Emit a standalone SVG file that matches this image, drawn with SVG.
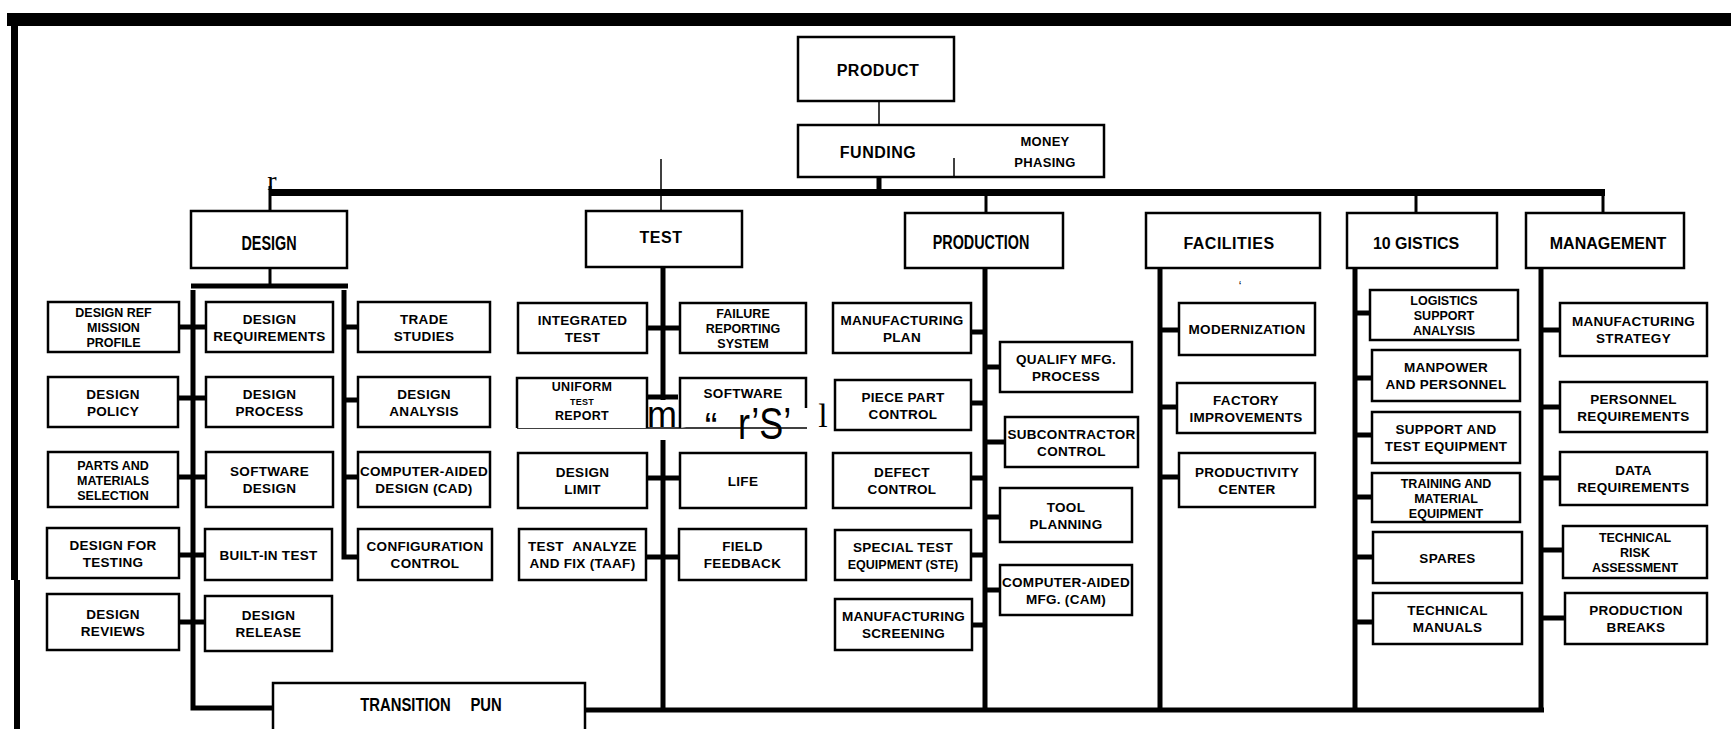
<svg xmlns="http://www.w3.org/2000/svg" width="1731" height="729" viewBox="0 0 1731 729">
<style>
.bx{fill:#fff;stroke:#000;stroke-width:2.5}
.t{font-family:"Liberation Sans",Arial,sans-serif;font-weight:bold;font-size:13.5px;text-anchor:middle;letter-spacing:0.3px;fill:#000}
.s{font-size:12.5px;letter-spacing:0}
.hd{font-family:"Liberation Sans",Arial,sans-serif;font-weight:bold;font-size:16px;text-anchor:middle;letter-spacing:0.5px;fill:#000}
.cd{font-family:"Liberation Sans",Arial,sans-serif;font-weight:bold;font-size:20px;text-anchor:middle;fill:#000}
.ov{font-family:"Liberation Sans",Arial,sans-serif;fill:#000}
.sf{font-family:"Liberation Serif","Times New Roman",serif;fill:#000}
.k{stroke:#000;stroke-width:5;fill:none}
.kk{stroke:#000;stroke-width:7;fill:none}
.th{stroke:#000;stroke-width:1.5;fill:none}
.m{stroke:#000;stroke-width:3;fill:none}
</style>
<rect width="1731" height="729" fill="#fff"/>
<g id="frame">
<rect x="7" y="13" width="1724" height="13" fill="#000"/>
<rect x="11" y="26" width="7" height="554" fill="#000"/>
<rect x="14" y="580" width="6" height="149" fill="#000"/>
</g>
<g id="connectors">
<line class="th" x1="879" y1="101" x2="879" y2="125"/>
<line class="k" x1="879" y1="177" x2="879" y2="190"/>
<line class="kk" x1="270" y1="192.5" x2="1605" y2="192.5"/>
<line class="m" x1="270" y1="186" x2="270" y2="211"/>
<line class="th" x1="661" y1="159" x2="661" y2="211"/>
<line class="m" x1="986" y1="196" x2="986" y2="213"/>
<line class="m" x1="1416" y1="196" x2="1416" y2="213"/>
<line class="m" x1="1603" y1="190" x2="1603" y2="213"/>
<line class="m" x1="270" y1="268" x2="270" y2="284"/>
<line class="k" x1="191" y1="286" x2="348" y2="286" stroke-width="6"/>
<polyline class="k" points="193,290 193,708 273,708"/>
<polyline class="k" points="344,290 344,557 358,557"/>
<path class="k" d="M179 327H206M179 398H206M179 477H206M179 555H205M179 622H205M344 327H358M344 400H358M344 477H358"/>
<line class="k" x1="663" y1="267" x2="663" y2="400"/>
<line class="k" x1="663" y1="440" x2="663" y2="710"/>
<path class="k" d="M647 328H680M647 397H678M647 478H680M646 557H679"/>
<line class="th" x1="517" y1="428" x2="807" y2="428" stroke-width="2.5"/>
<line class="k" x1="985" y1="268" x2="985" y2="710"/>
<path class="k" d="M971 332H985M971 403H985M971 478H985M971 555H985M972 625H985M985 367H1000M985 442H1005M985 517H1000M985 590H1000"/>
<line class="k" x1="1160" y1="268" x2="1160" y2="710"/>
<path class="k" d="M1160 330H1179M1160 407H1177M1160 477H1179"/>
<line class="k" x1="1355" y1="268" x2="1355" y2="710"/>
<path class="k" d="M1355 313H1370M1355 378H1372M1355 435H1372M1355 497H1372M1355 557H1373M1355 622H1373"/>
<line class="k" x1="1541" y1="268" x2="1541" y2="710"/>
<path class="k" d="M1541 330H1560M1541 407H1560M1541 478H1560M1541 550H1563M1541 618H1565"/>
<line class="k" x1="585" y1="710" x2="1544" y2="710" stroke-width="6"/>
</g>
<g id="product"><rect class="bx" x="798" y="37" width="156" height="64"/><text class="hd" x="878" y="76">PRODUCT</text></g>
<g id="funding"><rect class="bx" x="798" y="125" width="306" height="52"/><line class="th" x1="954" y1="158" x2="954" y2="177"/><text class="hd" x="878" y="158">FUNDING</text><text class="t" x="1045" y="146" style="font-size:13px">MONEY</text><text class="t" x="1045" y="167" style="font-size:13px">PHASING</text></g>
<g id="design"><rect class="bx" x="191" y="211" width="156" height="57"/><text class="cd" transform="translate(269,250) scale(0.72,1)">DESIGN</text></g>
<g id="test"><rect class="bx" x="586" y="211" width="156" height="56"/><text class="hd" x="661" y="243">TEST</text></g>
<g id="production"><rect class="bx" x="905" y="213" width="158" height="55"/><text class="cd" transform="translate(981,249) scale(0.72,1)">PRODUCTION</text></g>
<g id="facilities"><rect class="bx" x="1146" y="213" width="174" height="55"/><text class="hd" x="1229" y="249">FACILITIES</text></g>
<g id="logistics"><rect class="bx" x="1347" y="213" width="150" height="55"/><text class="hd" x="1416" y="249" style="letter-spacing:0">10 GISTICS</text></g>
<g id="management"><rect class="bx" x="1526" y="213" width="158" height="55"/><text class="hd" x="1608" y="249" style="letter-spacing:0">MANAGEMENT</text></g>
<g id="transition"><rect class="bx" x="273" y="683" width="312" height="60"/><text class="cd" transform="translate(431,711) scale(0.78,1)" style="font-size:19px;word-spacing:20px">TRANSITION PUN</text></g>

<g id="d-ref"><rect class="bx" x="48" y="302" width="131" height="50"/><text class="t s"><tspan x="113.5" y="317">DESIGN REF</tspan><tspan x="113.5" y="332">MISSION</tspan><tspan x="113.5" y="347">PROFILE</tspan></text></g>
<g id="d-policy"><rect class="bx" x="48" y="377" width="130" height="50"/><text class="t"><tspan x="113" y="398.5">DESIGN</tspan><tspan x="113" y="415.5">POLICY</tspan></text></g>
<g id="d-parts"><rect class="bx" x="48" y="452" width="130" height="55"/><text class="t s"><tspan x="113" y="469.5">PARTS AND</tspan><tspan x="113" y="484.5">MATERIALS</tspan><tspan x="113" y="499.5">SELECTION</tspan></text></g>
<g id="d-dft"><rect class="bx" x="47" y="528" width="132" height="50"/><text class="t"><tspan x="113" y="549.5">DESIGN FOR</tspan><tspan x="113" y="566.5">TESTING</tspan></text></g>
<g id="d-reviews"><rect class="bx" x="47" y="594" width="132" height="56"/><text class="t"><tspan x="113" y="618.5">DESIGN</tspan><tspan x="113" y="635.5">REVIEWS</tspan></text></g>
<g id="d-req"><rect class="bx" x="206" y="302" width="127" height="50"/><text class="t"><tspan x="269.5" y="323.5">DESIGN</tspan><tspan x="269.5" y="340.5">REQUIREMENTS</tspan></text></g>
<g id="d-process"><rect class="bx" x="206" y="377" width="127" height="50"/><text class="t"><tspan x="269.5" y="398.5">DESIGN</tspan><tspan x="269.5" y="415.5">PROCESS</tspan></text></g>
<g id="d-sw"><rect class="bx" x="206" y="452" width="127" height="55"/><text class="t"><tspan x="269.5" y="476">SOFTWARE</tspan><tspan x="269.5" y="493">DESIGN</tspan></text></g>
<g id="d-bit"><rect class="bx" x="205" y="529" width="127" height="51"/><text class="t" x="268.5" y="559.5">BUILT-IN TEST</text></g>
<g id="d-release"><rect class="bx" x="205" y="596" width="127" height="55"/><text class="t"><tspan x="268.5" y="620">DESIGN</tspan><tspan x="268.5" y="637">RELEASE</tspan></text></g>
<g id="d-trade"><rect class="bx" x="358" y="302" width="132" height="50"/><text class="t"><tspan x="424" y="323.5">TRADE</tspan><tspan x="424" y="340.5">STUDIES</tspan></text></g>
<g id="d-analysis"><rect class="bx" x="358" y="377" width="132" height="50"/><text class="t"><tspan x="424" y="398.5">DESIGN</tspan><tspan x="424" y="415.5">ANALYSIS</tspan></text></g>
<g id="d-cad"><rect class="bx" x="358" y="452" width="132" height="55"/><text class="t"><tspan x="424" y="476">COMPUTER-AIDED</tspan><tspan x="424" y="493">DESIGN (CAD)</tspan></text></g>
<g id="d-config"><rect class="bx" x="358" y="529" width="134" height="51"/><text class="t"><tspan x="425" y="551">CONFIGURATION</tspan><tspan x="425" y="568">CONTROL</tspan></text></g>

<g id="t-int"><rect class="bx" x="518" y="303" width="129" height="50"/><text class="t"><tspan x="582.5" y="324.5">INTEGRATED</tspan><tspan x="582.5" y="341.5">TEST</tspan></text></g>
<g id="t-uniform"><path class="bx" d="M517 428V378H647V428"/><text class="t"><tspan x="582" y="391" style="font-size:12.5px">UNIFORM</tspan><tspan x="582" y="405" style="font-size:9px">TEST</tspan><tspan x="582" y="420" style="font-size:12.5px">REPORT</tspan></text></g>
<g id="t-limit"><rect class="bx" x="518" y="453" width="129" height="55"/><text class="t"><tspan x="582.5" y="477">DESIGN</tspan><tspan x="582.5" y="494">LIMIT</tspan></text></g>
<g id="t-taaf"><rect class="bx" x="519" y="529" width="127" height="51"/><text class="t"><tspan x="582.5" y="551" style="word-spacing:5px">TEST ANALYZE</tspan><tspan x="582.5" y="568">AND FIX (TAAF)</tspan></text></g>
<g id="t-failure"><rect class="bx" x="680" y="303" width="126" height="50"/><text class="t s"><tspan x="743" y="318">FAILURE</tspan><tspan x="743" y="333">REPORTING</tspan><tspan x="743" y="348">SYSTEM</tspan></text></g>
<g id="t-software"><path class="bx" d="M680 428V378H806V408"/><text class="t" x="743" y="398">SOFTWARE</text></g>
<g id="t-life"><rect class="bx" x="680" y="453" width="126" height="55"/><text class="t" x="743" y="485.5">LIFE</text></g>
<g id="t-field"><rect class="bx" x="679" y="529" width="127" height="51"/><text class="t"><tspan x="742.5" y="551">FIELD</tspan><tspan x="742.5" y="568">FEEDBACK</tspan></text></g>
<g id="overlay">
<text class="ov" x="662" y="427" style="font-size:36px;text-anchor:middle">m</text>
<text class="ov" x="711" y="440" style="font-size:38px;text-anchor:middle">“</text>
<text class="ov" transform="translate(738,439) scale(0.9,1.1)" style="font-size:40px">r’S’</text>
<text class="sf" x="823" y="427" style="font-size:34px;text-anchor:middle">l</text>
<text class="sf" x="272" y="190" style="font-size:28px;text-anchor:middle">r</text>
<text class="ov" x="1240" y="290" style="font-size:12px;text-anchor:middle">‘</text>
</g>

<g id="p-plan"><rect class="bx" x="833" y="303" width="138" height="50"/><text class="t"><tspan x="902" y="324.5">MANUFACTURING</tspan><tspan x="902" y="341.5">PLAN</tspan></text></g>
<g id="p-piece"><rect class="bx" x="835" y="380" width="136" height="50"/><text class="t"><tspan x="903" y="401.5">PIECE PART</tspan><tspan x="903" y="418.5">CONTROL</tspan></text></g>
<g id="p-defect"><rect class="bx" x="833" y="453" width="138" height="55"/><text class="t"><tspan x="902" y="477">DEFECT</tspan><tspan x="902" y="494">CONTROL</tspan></text></g>
<g id="p-ste"><rect class="bx" x="835" y="530" width="136" height="50"/><text class="t"><tspan x="903" y="551.5">SPECIAL TEST</tspan><tspan x="903" y="568.5" style="font-size:12.5px;letter-spacing:0">EQUIPMENT (STE)</tspan></text></g>
<g id="p-screen"><rect class="bx" x="835" y="599" width="137" height="51"/><text class="t"><tspan x="903.5" y="621">MANUFACTURING</tspan><tspan x="903.5" y="638">SCREENING</tspan></text></g>
<g id="p-qualify"><rect class="bx" x="1000" y="342" width="132" height="50"/><text class="t"><tspan x="1066" y="363.5">QUALIFY MFG.</tspan><tspan x="1066" y="380.5">PROCESS</tspan></text></g>
<g id="p-sub"><rect class="bx" x="1005" y="417" width="133" height="50"/><text class="t"><tspan x="1071.5" y="438.5">SUBCONTRACTOR</tspan><tspan x="1071.5" y="455.5">CONTROL</tspan></text></g>
<g id="p-tool"><rect class="bx" x="1000" y="488" width="132" height="54"/><text class="t"><tspan x="1066" y="511.5">TOOL</tspan><tspan x="1066" y="528.5">PLANNING</tspan></text></g>
<g id="p-cam"><rect class="bx" x="1000" y="565" width="132" height="50"/><text class="t"><tspan x="1066" y="586.5">COMPUTER-AIDED</tspan><tspan x="1066" y="603.5">MFG. (CAM)</tspan></text></g>

<g id="f-mod"><rect class="bx" x="1179" y="303" width="136" height="52"/><text class="t" x="1247" y="334">MODERNIZATION</text></g>
<g id="f-factory"><rect class="bx" x="1177" y="383" width="138" height="50"/><text class="t"><tspan x="1246" y="404.5">FACTORY</tspan><tspan x="1246" y="421.5">IMPROVEMENTS</tspan></text></g>
<g id="f-prod"><rect class="bx" x="1179" y="453" width="136" height="54"/><text class="t"><tspan x="1247" y="476.5">PRODUCTIVITY</tspan><tspan x="1247" y="493.5">CENTER</tspan></text></g>

<g id="l-lsa"><rect class="bx" x="1370" y="290" width="148" height="50"/><text class="t s"><tspan x="1444" y="305">LOGISTICS</tspan><tspan x="1444" y="320">SUPPORT</tspan><tspan x="1444" y="335">ANALYSIS</tspan></text></g>
<g id="l-man"><rect class="bx" x="1372" y="350" width="148" height="51"/><text class="t"><tspan x="1446" y="372">MANPOWER</tspan><tspan x="1446" y="389">AND PERSONNEL</tspan></text></g>
<g id="l-ste"><rect class="bx" x="1372" y="412" width="148" height="51"/><text class="t"><tspan x="1446" y="434">SUPPORT AND</tspan><tspan x="1446" y="451">TEST EQUIPMENT</tspan></text></g>
<g id="l-train"><rect class="bx" x="1372" y="473" width="148" height="49"/><text class="t s"><tspan x="1446" y="487.5">TRAINING AND</tspan><tspan x="1446" y="502.5">MATERIAL</tspan><tspan x="1446" y="517.5">EQUIPMENT</tspan></text></g>
<g id="l-spares"><rect class="bx" x="1373" y="532" width="149" height="51"/><text class="t" x="1447.5" y="562.5">SPARES</text></g>
<g id="l-manuals"><rect class="bx" x="1373" y="593" width="149" height="51"/><text class="t"><tspan x="1447.5" y="615">TECHNICAL</tspan><tspan x="1447.5" y="632">MANUALS</tspan></text></g>

<g id="m-strat"><rect class="bx" x="1560" y="303" width="147" height="53"/><text class="t"><tspan x="1633.5" y="326">MANUFACTURING</tspan><tspan x="1633.5" y="343">STRATEGY</tspan></text></g>
<g id="m-pers"><rect class="bx" x="1560" y="382" width="147" height="50"/><text class="t"><tspan x="1633.5" y="403.5">PERSONNEL</tspan><tspan x="1633.5" y="420.5">REQUIREMENTS</tspan></text></g>
<g id="m-data"><rect class="bx" x="1560" y="452" width="147" height="53"/><text class="t"><tspan x="1633.5" y="475">DATA</tspan><tspan x="1633.5" y="492">REQUIREMENTS</tspan></text></g>
<g id="m-risk"><rect class="bx" x="1563" y="526" width="144" height="52"/><text class="t s"><tspan x="1635" y="542">TECHNICAL</tspan><tspan x="1635" y="557">RISK</tspan><tspan x="1635" y="572">ASSESSMENT</tspan></text></g>
<g id="m-breaks"><rect class="bx" x="1565" y="593" width="142" height="51"/><text class="t"><tspan x="1636" y="615">PRODUCTION</tspan><tspan x="1636" y="632">BREAKS</tspan></text></g>
</svg>
